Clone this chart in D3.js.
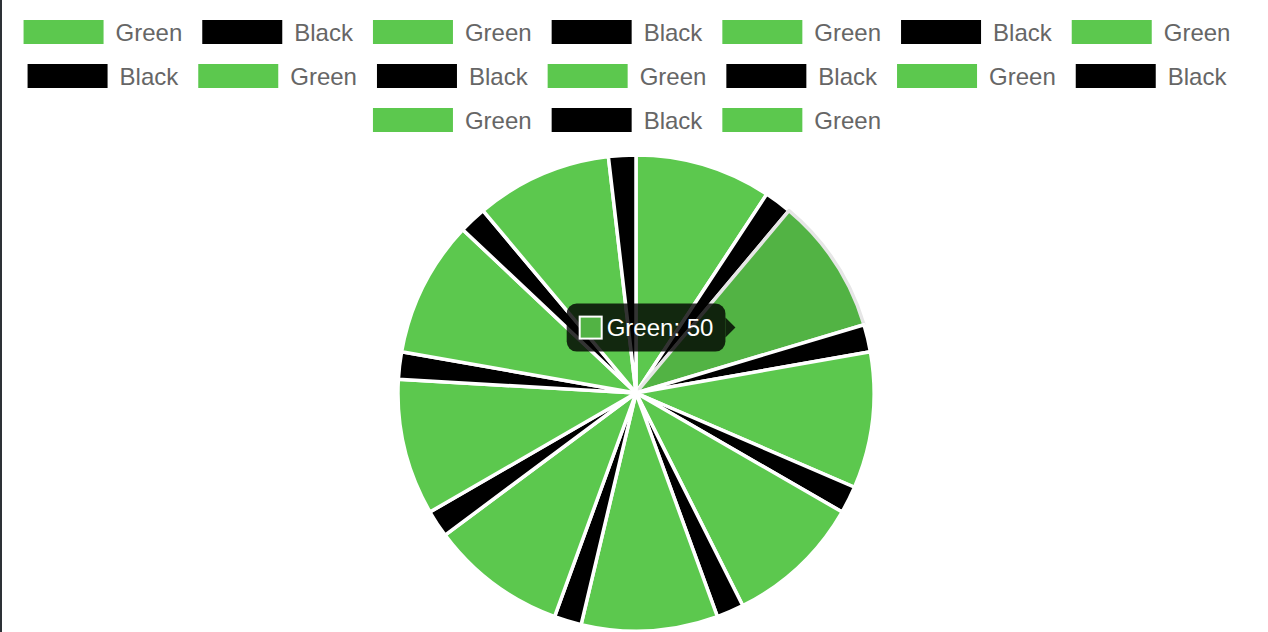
<!DOCTYPE html>
<html>
<head>
<meta charset="utf-8">
<script src="https://cdn.jsdelivr.net/npm/d3@7"></script>
<style>
  html, body { margin: 0; padding: 0; background: #ffffff; overflow: hidden; }
  body { border-left: 2px solid #2d3136; width: 1266px; height: 632px; }
  #chart svg { display: block; }
</style>
</head>
<body>
<div id="chart"></div>
<script>
/* D3 pie chart with alternating Green / Black slices */

// legend labels (one fewer than the slices drawn)
const labels = ["Green", "Black", "Green", "Black", "Green", "Black", "Green", "Black", "Green",
                "Black", "Green", "Black", "Green", "Black", "Green", "Black", "Green"];
// slice values
const values = [50, 10, 50, 10, 50, 10, 50, 10, 50, 10, 50, 10, 50, 10, 50, 10, 50, 10];
// slice colours
const colors = ["#5cc84e", "#000000", "#5cc84e", "#000000", "#5cc84e", "#000000", "#5cc84e", "#000000", "#5cc84e",
                "#000000", "#5cc84e", "#000000", "#5cc84e", "#000000", "#5cc84e", "#000000", "#5cc84e", "#000000"];
const hoverColor = "#52b344";
const hoverIndex = 2;

// dimensions
const width = 1266, height = 632,
  centerX = 634, // page is shifted by the 2px border
  fontSize = 24,
  boxW = 80, boxH = 24,
  pad = 20;

const svg = d3.select("#chart")
  .append("svg")
  .attr("width", width)
  .attr("height", height)
  .style("font-family", "'Liberation Sans', Arial, Helvetica, sans-serif");

/* legend */
const legend = svg.append("g");

// measure label widths first
const measure = svg.append("text").style("font-size", fontSize + "px");
const textW = labels.map(function(l) { measure.text(l); return measure.node().getComputedTextLength(); });
measure.remove();

// wrap items into rows
const rows = [];
let row = [], rowW = 0;
labels.forEach(function(l, i) {
  const w = boxW + fontSize / 2 + textW[i] + pad;
  if (rowW + w > width && row.length) { rows.push({items: row, w: rowW}); row = []; rowW = 0; }
  row.push({label: l, i: i, w: w});
  rowW += w;
});
rows.push({items: row, w: rowW});

rows.forEach(function(r, ri) {
  let x = centerX - r.w / 2 + 1;
  const y = 20 + ri * (boxH + pad);
  r.items.forEach(function(it) {
    const g = legend.append("g").attr("transform", "translate(" + x + "," + y + ")");
    g.append("rect")
      .attr("width", boxW)
      .attr("height", boxH)
      .attr("fill", colors[it.i]);
    g.append("text")
      .attr("x", boxW + fontSize / 2)
      .attr("y", boxH / 2)
      .attr("dy", "0.36em")
      .attr("fill", "#666666")
      .style("font-size", fontSize + "px")
      .text(it.label);
    x += it.w;
  });
});

/* pie */
const radius = 238, cy = 393;
const pie = d3.pie().sort(null).value(function(d) { return d; });
const arcs = pie(values);
const arc = d3.arc().innerRadius(0).outerRadius(radius);

const pieG = svg.append("g")
  .attr("transform", "translate(" + centerX + "," + cy + ")");

pieG.selectAll("path")
  .data(arcs)
  .enter()
  .append("path")
  .attr("d", arc)
  .attr("fill", function(d, i) { return i === hoverIndex ? hoverColor : colors[i]; })
  .attr("stroke", function(d, i) { return i === hoverIndex ? "#e6e6e6" : "#ffffff"; })
  .attr("stroke-width", 3.5)
  .attr("stroke-linejoin", "round");

/* tooltip for the hovered slice */
const c = arc.centroid(arcs[hoverIndex]);
const tipX = centerX + c[0], tipY = cy + c[1];
const tipText = labels[hoverIndex] + ": " + values[hoverIndex];

const tip = svg.append("g");
const tt = tip.append("text")
  .style("font-size", fontSize + "px")
  .attr("fill", "#ffffff")
  .text(tipText);
const tw = tt.node().getComputedTextLength();

const caret = 10, xPad = 12, boxHt = 48;
const bx1 = tipX - caret, bx0 = bx1 - (xPad + 24 + 4 + tw + xPad);
const by0 = tipY - boxHt / 2;

tip.insert("rect", "text")
  .attr("x", bx0)
  .attr("y", by0)
  .attr("width", bx1 - bx0)
  .attr("height", boxHt)
  .attr("rx", 10)
  .attr("fill", "rgba(0,0,0,0.8)");
tip.insert("path", "text")
  .attr("d", "M" + bx1 + "," + (tipY - caret) + "L" + tipX + "," + tipY + "L" + bx1 + "," + (tipY + caret) + "Z")
  .attr("fill", "rgba(0,0,0,0.8)");
// colour swatch
tip.append("rect")
  .attr("x", bx0 + xPad + 1)
  .attr("y", tipY - 12 + 1)
  .attr("width", 22)
  .attr("height", 22)
  .attr("fill", hoverColor)
  .attr("stroke", "#ffffff")
  .attr("stroke-width", 2);
tt.attr("x", bx0 + xPad + 24 + 4)
  .attr("y", tipY)
  .attr("dy", "0.36em");
</script>
</body>
</html>
